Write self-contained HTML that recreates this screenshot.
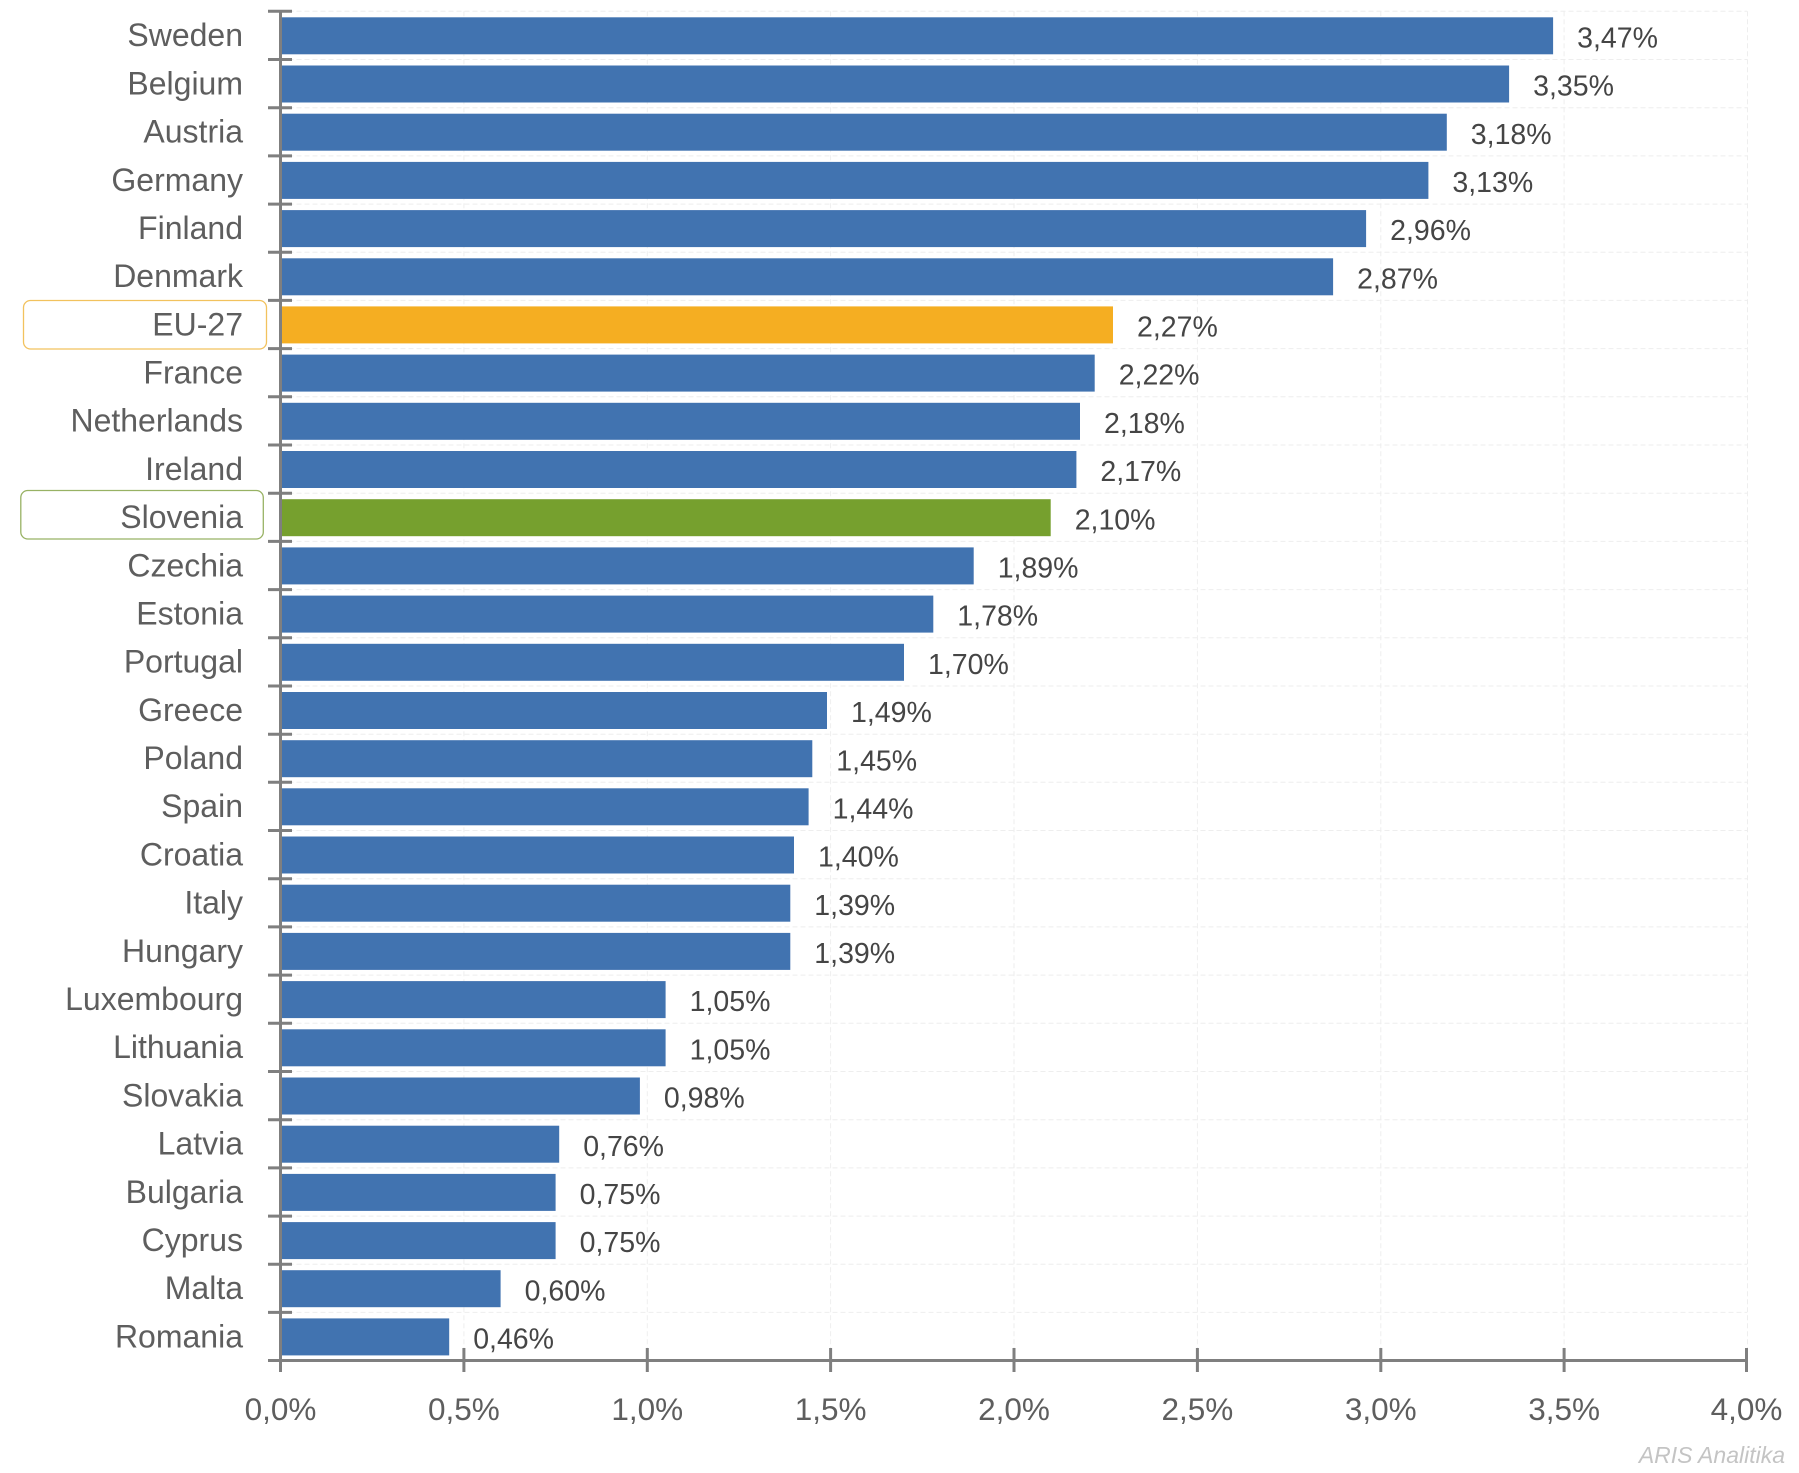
<!DOCTYPE html>
<html><head><meta charset="utf-8"><style>
html,body{margin:0;padding:0;background:#fff;}
svg{display:block;}
</style></head><body>
<svg width="1799" height="1473" viewBox="0 0 1799 1473" xmlns="http://www.w3.org/2000/svg" font-family="'Liberation Sans', sans-serif">
<rect x="0" y="0" width="1799" height="1473" fill="#ffffff"/>
<g stroke="#eeeeee" stroke-width="1" stroke-dasharray="5,3" fill="none">
<path d="M463.9 11.3V1360M647.3 11.3V1360M830.6 11.3V1360M1014 11.3V1360M1197.4 11.3V1360M1380.8 11.3V1360M1564.1 11.3V1360M1747.5 11.3V1360"/>
<path d="M280.5 11.3H1747M280.5 59.5H1747M280.5 107.7H1747M280.5 155.9H1747M280.5 204.1H1747M280.5 252.3H1747M280.5 300.4H1747M280.5 348.6H1747M280.5 396.8H1747M280.5 445H1747M280.5 493.2H1747M280.5 541.4H1747M280.5 589.6H1747M280.5 637.8H1747M280.5 686H1747M280.5 734.2H1747M280.5 782.3H1747M280.5 830.5H1747M280.5 878.7H1747M280.5 926.9H1747M280.5 975.1H1747M280.5 1023.3H1747M280.5 1071.5H1747M280.5 1119.7H1747M280.5 1167.9H1747M280.5 1216.1H1747M280.5 1264.2H1747M280.5 1312.4H1747"/>
</g>
<g fill="#4173b0">
<rect x="280.5" y="17.3" width="1272.6" height="37"/>
<rect x="280.5" y="65.5" width="1228.6" height="37"/>
<rect x="280.5" y="113.7" width="1166.3" height="37"/>
<rect x="280.5" y="161.9" width="1147.9" height="37"/>
<rect x="280.5" y="210.1" width="1085.6" height="37"/>
<rect x="280.5" y="258.3" width="1052.6" height="37"/>
<rect x="280.5" y="306.4" width="832.5" height="37" fill="#f5ae22"/>
<rect x="280.5" y="354.6" width="814.2" height="37"/>
<rect x="280.5" y="402.8" width="799.5" height="37"/>
<rect x="280.5" y="451" width="795.9" height="37"/>
<rect x="280.5" y="499.2" width="770.2" height="37" fill="#76a02e"/>
<rect x="280.5" y="547.4" width="693.2" height="37"/>
<rect x="280.5" y="595.6" width="652.8" height="37"/>
<rect x="280.5" y="643.8" width="623.5" height="37"/>
<rect x="280.5" y="692" width="546.5" height="37"/>
<rect x="280.5" y="740.2" width="531.8" height="37"/>
<rect x="280.5" y="788.3" width="528.1" height="37"/>
<rect x="280.5" y="836.5" width="513.5" height="37"/>
<rect x="280.5" y="884.7" width="509.8" height="37"/>
<rect x="280.5" y="932.9" width="509.8" height="37"/>
<rect x="280.5" y="981.1" width="385.1" height="37"/>
<rect x="280.5" y="1029.3" width="385.1" height="37"/>
<rect x="280.5" y="1077.5" width="359.4" height="37"/>
<rect x="280.5" y="1125.7" width="278.7" height="37"/>
<rect x="280.5" y="1173.9" width="275.1" height="37"/>
<rect x="280.5" y="1222.1" width="275.1" height="37"/>
<rect x="280.5" y="1270.2" width="220.1" height="37"/>
<rect x="280.5" y="1318.4" width="168.7" height="37"/>
</g>
<rect x="23.5" y="300.5" width="243" height="48.5" rx="7" ry="7" fill="none" stroke="#f2c25e" stroke-width="1.3"/>
<rect x="20.8" y="490.5" width="242.5" height="48.5" rx="7" ry="7" fill="none" stroke="#98b264" stroke-width="1.3"/>
<g font-size="32" fill="#5e5e5e" text-anchor="end">
<text x="243" y="46.2">Sweden</text>
<text x="243" y="94.4">Belgium</text>
<text x="243" y="142.6">Austria</text>
<text x="243" y="190.8">Germany</text>
<text x="243" y="239">Finland</text>
<text x="243" y="287.2">Denmark</text>
<text x="243" y="335.3">EU-27</text>
<text x="243" y="383.5">France</text>
<text x="243" y="431.7">Netherlands</text>
<text x="243" y="479.9">Ireland</text>
<text x="243" y="528.1">Slovenia</text>
<text x="243" y="576.3">Czechia</text>
<text x="243" y="624.5">Estonia</text>
<text x="243" y="672.7">Portugal</text>
<text x="243" y="720.9">Greece</text>
<text x="243" y="769.1">Poland</text>
<text x="243" y="817.2">Spain</text>
<text x="243" y="865.4">Croatia</text>
<text x="243" y="913.6">Italy</text>
<text x="243" y="961.8">Hungary</text>
<text x="243" y="1010">Luxembourg</text>
<text x="243" y="1058.2">Lithuania</text>
<text x="243" y="1106.4">Slovakia</text>
<text x="243" y="1154.6">Latvia</text>
<text x="243" y="1202.8">Bulgaria</text>
<text x="243" y="1251">Cyprus</text>
<text x="243" y="1299.1">Malta</text>
<text x="243" y="1347.3">Romania</text>
</g>
<g font-size="28.5" fill="#454545">
<text x="1577.1" y="47.4">3,47%</text>
<text x="1533.1" y="95.6">3,35%</text>
<text x="1470.8" y="143.8">3,18%</text>
<text x="1452.4" y="192">3,13%</text>
<text x="1390.1" y="240.2">2,96%</text>
<text x="1357.1" y="288.4">2,87%</text>
<text x="1137" y="336.5">2,27%</text>
<text x="1118.7" y="384.7">2,22%</text>
<text x="1104" y="432.9">2,18%</text>
<text x="1100.4" y="481.1">2,17%</text>
<text x="1074.7" y="529.3">2,10%</text>
<text x="997.7" y="577.5">1,89%</text>
<text x="957.3" y="625.7">1,78%</text>
<text x="928" y="673.9">1,70%</text>
<text x="851" y="722.1">1,49%</text>
<text x="836.3" y="770.3">1,45%</text>
<text x="832.6" y="818.4">1,44%</text>
<text x="818" y="866.6">1,40%</text>
<text x="814.3" y="914.8">1,39%</text>
<text x="814.3" y="963">1,39%</text>
<text x="689.6" y="1011.2">1,05%</text>
<text x="689.6" y="1059.4">1,05%</text>
<text x="663.9" y="1107.6">0,98%</text>
<text x="583.2" y="1155.8">0,76%</text>
<text x="579.6" y="1204">0,75%</text>
<text x="579.6" y="1252.2">0,75%</text>
<text x="524.6" y="1300.3">0,60%</text>
<text x="473.2" y="1348.5">0,46%</text>
</g>
<g stroke="#7f7f7f" stroke-width="3" fill="none">
<path d="M280.5 11V1372"/>
<path d="M268 1360.5H1748"/>
<path d="M268 11.3H292M268 59.5H292M268 107.7H292M268 155.9H292M268 204.1H292M268 252.3H292M268 300.4H292M268 348.6H292M268 396.8H292M268 445H292M268 493.2H292M268 541.4H292M268 589.6H292M268 637.8H292M268 686H292M268 734.2H292M268 782.3H292M268 830.5H292M268 878.7H292M268 926.9H292M268 975.1H292M268 1023.3H292M268 1071.5H292M268 1119.7H292M268 1167.9H292M268 1216.1H292M268 1264.2H292M268 1312.4H292"/>
<path d="M280.5 1348V1372M463.9 1348V1372M647.3 1348V1372M830.6 1348V1372M1014 1348V1372M1197.4 1348V1372M1380.8 1348V1372M1564.1 1348V1372M1746.5 1348V1372"/>
</g>
<g font-size="31.5" fill="#5e5e5e" text-anchor="middle">
<text x="280.5" y="1420">0,0%</text>
<text x="463.9" y="1420">0,5%</text>
<text x="647.3" y="1420">1,0%</text>
<text x="830.6" y="1420">1,5%</text>
<text x="1014" y="1420">2,0%</text>
<text x="1197.4" y="1420">2,5%</text>
<text x="1380.8" y="1420">3,0%</text>
<text x="1564.1" y="1420">3,5%</text>
<text x="1746.5" y="1420">4,0%</text>
</g>
<text x="1785" y="1463" font-size="23" font-style="italic" fill="#c4c4c4" text-anchor="end">ARIS Analitika</text>
</svg>
</body></html>
